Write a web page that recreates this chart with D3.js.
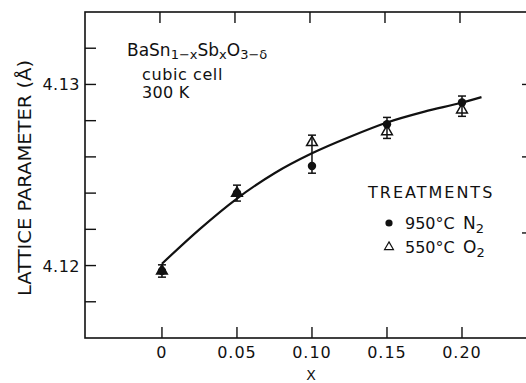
<!DOCTYPE html>
<html>
<head>
<meta charset="utf-8">
<script src="https://cdn.jsdelivr.net/npm/d3@7/dist/d3.min.js"></script>
<style>
  body { margin: 0; background: #fff; }
  svg { display: block; }
  text { font-family: "DejaVu Sans", sans-serif; fill: #111; }
</style>
</head>
<body>
<svg width="526" height="383"></svg>
<script>
// x = Sb fraction, y = lattice parameter (Angstrom)
var xValues = [0, 0.05, 0.10, 0.15, 0.20];
var n2Values = [4.1197, 4.1240, 4.1255, 4.1278, 4.1290];   // 950 C N2 (filled circles)
var o2Values = [4.1197, 4.1240, 4.1268, 4.1274, 4.1286];   // 550 C O2 (open triangles)
var errValues = [0.00034, 0.00044, 0.00040, 0.00038, 0.00036];

// hand-drawn fit curve
var curveX = [0, 0.025, 0.05, 0.075, 0.10, 0.125, 0.15, 0.175, 0.20, 0.213];
var curveY = [4.1201, 4.1220, 4.1237, 4.1251, 4.1262, 4.1271, 4.1279, 4.1285, 4.1290, 4.1293];

var xTicks = [0, 0.05, 0.10, 0.15, 0.20];
var xTickLabels = ["0", "0.05", "0.10", "0.15", "0.20"];
var yTicks = [4.118, 4.120, 4.122, 4.124, 4.126, 4.128, 4.130, 4.132];
var yTickLabels = [[4.12, "4.12"], [4.13, "4.13"]];
var rightTicks = [4.1300, 4.1260, 4.1218];

var svg = d3.select("svg");

var x = d3.scaleLinear().domain([-0.0513, 0.246]).range([85, 531]);
var y = d3.scaleLinear().domain([4.116, 4.134]).range([338, 12]);

var fLeft = x.range()[0], fRight = x.range()[1],
    fTop = y.range()[1], fBottom = y.range()[0];

// frame
svg.append("rect")
    .attr("x", fLeft).attr("y", fTop)
    .attr("width", fRight - fLeft).attr("height", fBottom - fTop)
    .attr("fill", "none")
    .attr("stroke", "#111")
    .attr("stroke-width", 1.6);

var ticks = svg.append("g").attr("stroke", "#111").attr("stroke-width", 1.4);

// bottom and top ticks (inward)
xTicks.forEach(function(t) {
    ticks.append("line")
        .attr("x1", x(t)).attr("x2", x(t))
        .attr("y1", fBottom).attr("y2", fBottom - 11);
    ticks.append("line")
        .attr("x1", x(t) - 2).attr("x2", x(t) - 2)
        .attr("y1", fTop).attr("y2", fTop + 11);
});

// left ticks
yTicks.forEach(function(t) {
    ticks.append("line")
        .attr("x1", fLeft).attr("x2", fLeft + 11)
        .attr("y1", y(t)).attr("y2", y(t));
});

// right ticks (axis sits just outside the picture)
rightTicks.forEach(function(t) {
    ticks.append("line")
        .attr("x1", fRight).attr("x2", fRight - 9)
        .attr("y1", y(t)).attr("y2", y(t));
});

// tick labels
svg.append("g").selectAll("text")
    .data(xTicks)
    .enter().append("text")
    .attr("x", function(d) { return x(d); })
    .attr("y", 358)
    .attr("text-anchor", "middle")
    .attr("font-size", 16)
    .attr("letter-spacing", 1)
    .text(function(d, i) { return xTickLabels[i]; });

svg.append("g").selectAll("text")
    .data(yTickLabels)
    .enter().append("text")
    .attr("x", 80)
    .attr("y", function(d) { return y(d[0]) + 6; })
    .attr("text-anchor", "end")
    .attr("font-size", 16)
    .attr("letter-spacing", 0.5)
    .text(function(d) { return d[1]; });

// axis titles
svg.append("text")
    .attr("x", 311).attr("y", 380)
    .attr("text-anchor", "middle")
    .attr("font-size", 14)
    .text("X");

svg.append("text")
    .attr("transform", "translate(31,178) rotate(-90)")
    .attr("text-anchor", "middle")
    .attr("font-size", 18)
    .attr("textLength", 236)
    .attr("lengthAdjust", "spacingAndGlyphs")
    .text("LATTICE PARAMETER (Å)");

// fit curve
var line = d3.line()
    .x(function(d) { return x(d[0]); })
    .y(function(d) { return y(d[1]); })
    .curve(d3.curveMonotoneX);

svg.append("path")
    .datum(d3.zip(curveX, curveY))
    .attr("d", line)
    .attr("fill", "none")
    .attr("stroke", "#111")
    .attr("stroke-width", 2.2);

// error bars
var bars = svg.append("g").attr("stroke", "#111").attr("stroke-width", 1.5);
function errorBar(xv, lo, hi) {
    bars.append("line")
        .attr("x1", x(xv)).attr("x2", x(xv))
        .attr("y1", y(lo)).attr("y2", y(hi));
    [lo, hi].forEach(function(v) {
        bars.append("line")
            .attr("x1", x(xv) - 4).attr("x2", x(xv) + 4)
            .attr("y1", y(v)).attr("y2", y(v));
    });
}
xValues.forEach(function(xv, i) {
    var hi = Math.max(n2Values[i], o2Values[i]) + errValues[i],
        lo = Math.min(n2Values[i], o2Values[i]) - errValues[i];
    errorBar(xv, lo, hi);
});

// markers
svg.append("g").selectAll("circle")
    .data(d3.zip(xValues, n2Values))
    .enter().append("circle")
    .attr("cx", function(d) { return x(d[0]); })
    .attr("cy", function(d) { return y(d[1]); })
    .attr("r", 4.2)
    .attr("fill", "#111");

var tri = d3.symbol().type(d3.symbolTriangle).size(50);
svg.append("g").selectAll("path")
    .data(d3.zip(xValues, o2Values))
    .enter().append("path")
    .attr("d", tri)
    .attr("transform", function(d) { return "translate(" + x(d[0]) + "," + y(d[1]) + ")"; })
    .attr("fill", function(d, i) { return i < 2 ? "#111" : "none"; })
    .attr("stroke", "#111")
    .attr("stroke-width", 1.5);

// composition / conditions note
var note = svg.append("text")
    .attr("x", 127).attr("y", 56)
    .attr("font-size", 17);
note.append("tspan").text("BaSn");
note.append("tspan").attr("font-size", 13).attr("dy", 3).text("1−x");
note.append("tspan").attr("dy", -3).text("Sb");
note.append("tspan").attr("font-size", 13).attr("dy", 3).text("x");
note.append("tspan").attr("dy", -3).text("O");
note.append("tspan").attr("font-size", 13).attr("dy", 3).text("3−δ");

svg.append("text").attr("x", 142).attr("y", 80)
    .attr("font-size", 16).attr("letter-spacing", 0.6).text("cubic cell");
svg.append("text").attr("x", 142).attr("y", 98)
    .attr("font-size", 16).attr("letter-spacing", 0.3).text("300 K");

// legend
svg.append("text")
    .attr("x", 368).attr("y", 198)
    .attr("font-size", 16)
    .attr("letter-spacing", 2)
    .text("TREATMENTS");

var legend = [["950°C", "N"], ["550°C", "O"]];
legend.forEach(function(d, i) {
    var ly = 223 + i * 24;
    if (i == 0) {
        svg.append("circle").attr("cx", 389).attr("cy", ly).attr("r", 3.6).attr("fill", "#111");
    } else {
        svg.append("path")
            .attr("d", d3.symbol().type(d3.symbolTriangle).size(34))
            .attr("transform", "translate(389," + ly + ")")
            .attr("fill", "none").attr("stroke", "#111").attr("stroke-width", 1.2);
    }
    svg.append("text").attr("x", 405).attr("y", ly + 6)
        .attr("font-size", 16).text(d[0]);
    var t = svg.append("text").attr("x", 463).attr("y", ly + 6).attr("font-size", 17);
    t.append("tspan").text(d[1]);
    t.append("tspan").attr("font-size", 13).attr("dy", 4).text("2");
});
</script>
</body>
</html>
